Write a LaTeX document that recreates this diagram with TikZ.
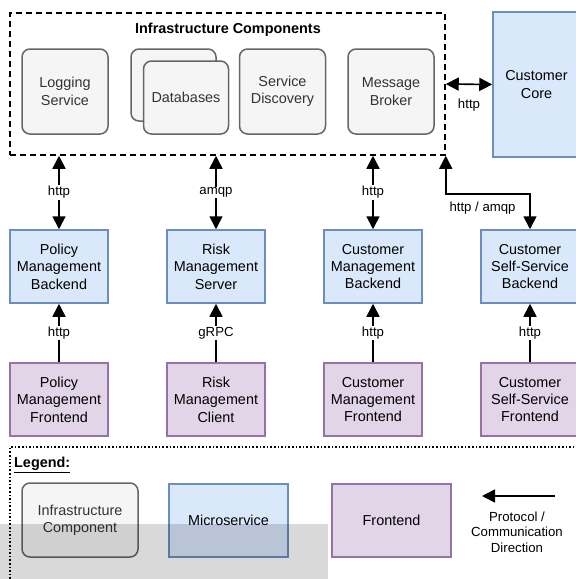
\documentclass[tikz,border=0pt]{standalone}
\usepackage{fontspec}
\setmainfont{Liberation Sans}
\usetikzlibrary{arrows.meta}
\definecolor{infrafill}{HTML}{F5F5F5}
\definecolor{infraline}{HTML}{666666}
\definecolor{infratext}{HTML}{333333}
\definecolor{microfill}{HTML}{DAE8FC}
\definecolor{microline}{HTML}{6C8EBF}
\definecolor{frontfill}{HTML}{E1D5E7}
\definecolor{frontline}{HTML}{9673A6}

\begin{document}
\begin{tikzpicture}[x=1pt, y=-1pt,
  box/.style={draw, line width=1.5pt, align=center, inner sep=0pt,
    font=\fontsize{14.4}{17.4}\selectfont},
  infra/.style={box, rounded corners=8pt, fill=infrafill, draw=infraline,
    text=infratext, minimum width=86pt, minimum height=85pt},
  micro/.style={box, fill=microfill, draw=microline,
    minimum width=98pt, minimum height=73pt},
  front/.style={box, fill=frontfill, draw=frontline,
    minimum width=98pt, minimum height=73pt},
  proto/.style={fill=white, inner sep=1pt, align=center,
    font=\fontsize{13.2}{15.6}\selectfont},
  flow/.style={-{Triangle[length=13pt,width=13pt]}, line width=1.6pt},
  biflow/.style={{Triangle[length=13pt,width=13pt]}-{Triangle[length=13pt,width=13pt]},
    line width=1.6pt}
]
  \useasboundingbox (0,0) rectangle (576,579);
  \clip (0,0) rectangle (576,579);

  \node[draw, line width=1.5pt, dash pattern=on 6pt off 4pt,
    minimum width=435pt, minimum height=142pt] (infra) at (227.5,84) {};
  \node[font=\fontsize{14.4}{17.4}\selectfont\bfseries] (infratitle)
    at (228,30) {Infrastructure Components};
  \node[infra] (logging) at (65,91.5) {Logging\\Service};
  \node[infra, minimum width=85pt, minimum height=72pt] (dbback) at (173.5,85) {};
  \node[infra, minimum width=85pt, minimum height=73pt] (db) at (186,97.5) {Databases};
  \node[infra] (discovery) at (282.5,91.5) {Service\\Discovery};
  \node[infra] (broker) at (391,91.5) {Message\\Broker};
  \node[micro, minimum width=87pt, minimum height=145pt] (core)
    at (536.5,84.5) {Customer\\Core};

  \node[micro] (policyb) at (59,266.5) {Policy\\Management\\Backend};
  \node[micro] (riskb) at (216,266.5) {Risk\\Management\\Server};
  \node[micro] (custb) at (373,266.5) {Customer\\Management\\Backend};
  \node[micro] (selfb) at (530,266.5) {Customer\\Self-Service\\Backend};

  \node[front] (policyf) at (59,399.5) {Policy\\Management\\Frontend};
  \node[front] (riskf) at (216,399.5) {Risk\\Management\\Client};
  \node[front] (custf) at (373,399.5) {Customer\\Management\\Frontend};
  \node[front] (selff) at (530,399.5) {Customer\\Self-Service\\Frontend};

  \draw[biflow] (infra.east) -- (core.west)
    node[proto, midway, fill=none, yshift=-21pt] {http};
  \draw[biflow] (policyb.north |- infra.south) -- (policyb.north)
    node[proto, midway] {http};
  \draw[biflow] (riskb.north |- infra.south) -- (riskb.north)
    node[proto, midway] {amqp};
  \draw[biflow] (custb.north |- infra.south) -- (custb.north)
    node[proto, midway] {http};
  \draw[biflow] (infra.south east) -- ++(0,38)
    node[proto, fill=none, anchor=west, xshift=2pt, yshift=-14pt] {http / amqp}
    -| (selfb.north);

  \draw[flow] (policyf) -- (policyb) node[proto, midway] {http};
  \draw[flow] (riskf) -- (riskb) node[proto, midway] {gRPC};
  \draw[flow] (custf) -- (custb) node[proto, midway] {http};
  \draw[flow] (selff) -- (selfb) node[proto, midway] {http};

  \draw[line width=1.6pt, dash pattern=on 1.6pt off 2pt]
    (10,579) -- (10,447) -- (576,447);
  \node[anchor=west, inner sep=0pt, font=\fontsize{14.4}{17.4}\selectfont\bfseries]
    (legendtitle) at (14,465) {\underline{Legend:}};
  \node[infra, minimum width=116pt, minimum height=74pt] (legendinfra)
    at (80,520) {Infrastructure\\Component};
  \node[micro, minimum width=119pt, minimum height=73pt] (legendmicro)
    at (228.5,520.5) {Microservice};
  \node[front, minimum width=119pt, minimum height=73pt] (legendfront)
    at (391.5,520.5) {Frontend};
  \coordinate (legendtail) at (555,496);
  \coordinate (legendtip) at (482,496);
  \draw[flow] (legendtail) -- (legendtip);
  \node[proto, fill=none] (legendproto) at (517,532)
    {Protocol /\\Communication\\Direction};

  \fill[black, fill opacity=0.15] (0,524) rectangle (328,579);
\end{tikzpicture}
\end{document}
